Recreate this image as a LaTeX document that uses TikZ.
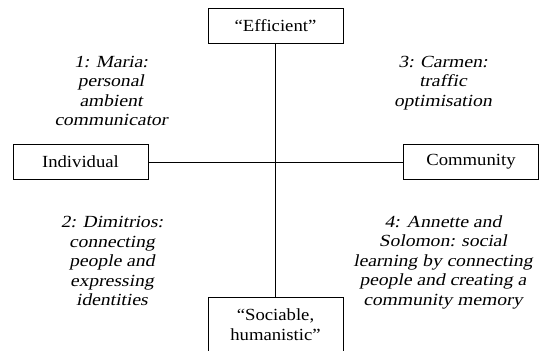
\documentclass[tikz,border=0pt]{standalone}
\usepackage{fontspec}
\setmainfont[FakeStretch=1.1]{Liberation Serif}
\newfontfamily\obliquefont[FakeSlant=0.2,FakeStretch=1.15]{Liberation Serif}

\begin{document}
\begin{tikzpicture}[x=1pt,y=-1pt,
  box/.style={draw, line width=0.9pt, minimum width=135pt, minimum height=35pt,
    inner sep=0pt, align=center, font=\fontsize{17}{21}\selectfont},
  note/.style={align=center, inner sep=0pt,
    font=\obliquefont\fontsize{17}{19.5}\selectfont},
  link/.style={line width=0.9pt}]
\useasboundingbox (0,0) rectangle (539,351);
\clip (0,0) rectangle (539,351);

% the four poles of the two axes
\node[box] (eff) at (275.5,25.5) {“Efficient”};
\node[box] (ind) at (80.5,162) {Individual};
\node[box] (com) at (471,162) {Community};
\node[box, minimum height=56pt] (soc) at (275.5,325) {“Sociable,\\[-1pt]humanistic”};

% axes
\draw[link] (ind.east) -- (com.west);
\draw[link] (eff.south) -- (soc.north);

% quadrant scenarios
\node[note] (q1) at (111,91) {1: Maria:\\personal\\ambient\\communicator};
\node[note] (q3) at (443,83) {3: Carmen:\\traffic\\optimisation};
\node[note] (q2) at (112,261) {2: Dimitrios:\\connecting\\people and\\expressing\\identities};
\node[note] (q4) at (443,262) {4: Annette and\\Solomon: social\\learning by connecting\\people and creating a\\community memory};
\end{tikzpicture}
\end{document}
